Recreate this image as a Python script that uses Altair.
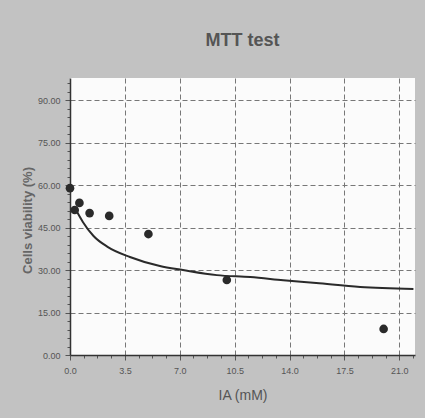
import altair as alt
import pandas as pd

# Measured points (concentration in mM, viability %)
conc = [0.0, 0.3, 0.6, 1.25, 2.5, 5.0, 10.0, 20.0]
viability = [58.9, 51.2, 53.7, 50.1, 49.1, 42.7, 26.5, 9.2]

# Fitted curve
curve_x = [0.4, 0.83, 1.5, 2.42, 3.82, 5.73, 7.2, 9.36, 11.5, 13.6, 15.7, 18.5, 21.9]
curve_y = [51.0, 46.9, 42.0, 38.1, 34.6, 31.4, 30.0, 28.2, 27.5, 26.4, 25.4, 24.0, 23.3]

# Axis tick values
x_ticks = [i * 0.875 for i in range(0, 26)]
y_ticks = list(range(0, 97, 3))

points = pd.DataFrame({"x": conc, "y": viability})
curve = pd.DataFrame({"x": curve_x, "y": curve_y})

FONT = "Liberation Sans"
x_major = "abs(datum.value/3.5 - round(datum.value/3.5)) < 0.01"
y_major = "datum.value % 15 == 0"

x_scale = alt.Scale(domain=[0, 22], nice=False, zero=False)
y_scale = alt.Scale(domain=[0, 97.8], nice=False, zero=False)

x_axis = alt.Axis(
    title="IA (mM)", values=x_ticks, tickCount=200, format=".1f",
    labelExpr=f"({x_major}) ? format(datum.value, '.1f') : ''",
    labelOverlap=False,
    labelFont=FONT, labelFontSize=9, labelColor="#555", labelPadding=6,
    titleFont=FONT, titleFontSize=14, titleFontWeight="normal", titleColor="#555",
    titleY=40, titleBaseline="middle",
    domainColor="#333", domainWidth=1.5,
    tickColor="#555",
    tickSize={"condition": {"test": x_major, "value": 5}, "value": 3},
    grid=True, gridColor="#777", gridDash=[5, 3], gridWidth=1,
    gridOpacity={"condition": {"test": f"({x_major}) && datum.value > 0", "value": 1}, "value": 0},
    labelFlush=False,
)
y_axis = alt.Axis(
    title="Cells viability (%)", values=y_ticks, tickCount=200,
    labelExpr=f"({y_major}) ? format(datum.value, '.2f') : ''",
    labelOverlap=False,
    labelFont=FONT, labelFontSize=9, labelColor="#555", labelPadding=5,
    titleFont=FONT, titleFontSize=13, titleFontWeight="bold", titleColor="#666",
    titleX=-43, titleY=142, titleBaseline="middle", titleAngle=-90,
    domainColor="#333", domainWidth=1.5,
    tickColor="#555",
    tickSize={"condition": {"test": y_major, "value": 5}, "value": 3},
    grid=True, gridColor="#777", gridDash=[5, 3], gridWidth=1,
    gridOpacity={"condition": {"test": f"({y_major}) && datum.value > 0", "value": 1}, "value": 0},
    labelFlush=False,
)

line = alt.Chart(curve).mark_line(color="#2a2a2a", strokeWidth=2, interpolate="monotone").encode(
    x=alt.X("x:Q", scale=x_scale, axis=x_axis),
    y=alt.Y("y:Q", scale=y_scale, axis=y_axis),
)
dots = alt.Chart(points).mark_point(filled=True, color="#2a2a2a", opacity=1, size=75, shape="circle").encode(
    x=alt.X("x:Q", scale=x_scale),
    y=alt.Y("y:Q", scale=y_scale),
)

chart = (line + dots).properties(
    width=345,
    height=277,
    title=alt.TitleParams("MTT test", font=FONT, fontSize=18, fontWeight="bold", color="#555",
                          anchor="middle", offset=28),
    background="#c2c2c2",
    padding={"left": 70, "top": 78, "right": 10, "bottom": 63},
    autosize=alt.AutoSizeParams(type="none"),
).configure_view(fill="#fbfbfb", stroke=None)

chart.save("out.html", embed_options={"renderer": "svg", "actions": False})
